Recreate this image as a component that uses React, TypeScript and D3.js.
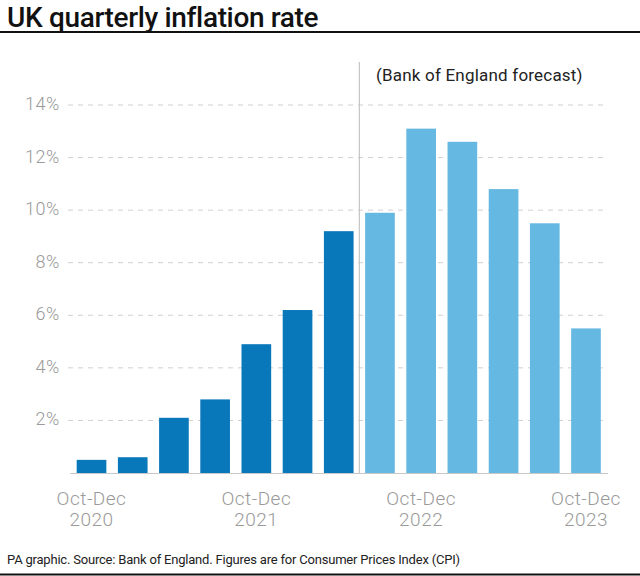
import React from "react";
import * as d3 from "d3";

const quarters = ["Oct-Dec 2020","Jan-Mar 2021","Apr-Jun 2021","Jul-Sep 2021","Oct-Dec 2021","Jan-Mar 2022","Apr-Jun 2022","Jul-Sep 2022","Oct-Dec 2022","Jan-Mar 2023","Apr-Jun 2023","Jul-Sep 2023","Oct-Dec 2023"];
const values = [0.5, 0.6, 2.1, 2.8, 4.9, 6.2, 9.2, 9.9, 13.1, 12.6, 10.8, 9.5, 5.5];
const forecast = [false,false,false,false,false,false,false,true,true,true,true,true,true];
const yTicks = [2, 4, 6, 8, 10, 12, 14];
const xLabelIdx = [0, 4, 8, 12];
const xLabelTop = ["Oct-Dec","Oct-Dec","Oct-Dec","Oct-Dec"];
const xLabelBottom = ["2020","2021","2022","2023"];

const W = 640, H = 576;
const font = "Roboto, 'Liberation Sans', Arial, sans-serif";

export default function App() {
  const x = d3.scaleBand<string>().domain(quarters).range([70.5, 607]).paddingInner(0.28).paddingOuter(0.15);
  const y = d3.scaleLinear().domain([0, 14]).range([473, 105]);
  const bw = x.bandwidth();
  const dividerX = (x(quarters[6])! + bw + x(quarters[7])!) / 2;
  return (
    <div style={{ position: "absolute", left: 0, top: 0 }}>
      <svg width={W} height={H} style={{ display: "block", fontFamily: font }}>
        <rect width={W} height={H} fill="#fff" />
        <text x={7} y={27} fontSize={28} fontWeight={500} fill="#111" letterSpacing={-0.35}>UK quarterly inflation rate</text>
        <line x1={0} x2={W} y1={32} y2={32} stroke="#111" strokeWidth={2} />
        {yTicks.map(t => (
          <g key={t}>
            <line x1={68} x2={607} y1={y(t)} y2={y(t)} stroke="#d0d0d0" strokeWidth={1} strokeDasharray="5,5" />
            <text x={60} y={y(t) + 5} fontSize={18} fontWeight={300} fill="#9a9a9a" textAnchor="end" letterSpacing={0.6}>{t}%</text>
          </g>
        ))}
        {quarters.map((q, i) => (
          <rect key={q} x={x(q)} y={y(values[i])} width={bw} height={y(0) - y(values[i])} fill={forecast[i] ? "#65b8e2" : "#0878bb"} />
        ))}
        <line x1={70} x2={608} y1={473.5} y2={473.5} stroke="#c8c8c8" strokeWidth={1} />
        <line x1={dividerX} x2={dividerX} y1={62} y2={473} stroke="#c4c4c4" strokeWidth={1.2} />
        <text x={376} y={81} fontSize={17} fill="#222" letterSpacing={0.2}>(Bank of England forecast)</text>
        {xLabelIdx.map((idx, k) => {
          const cx = x(quarters[idx])! + bw / 2;
          return (
            <g key={idx}>
              <text x={cx} y={505} fontSize={19} fontWeight={300} fill="#9a9a9a" textAnchor="middle" letterSpacing={0.5}>{xLabelTop[k]}</text>
              <text x={cx} y={526} fontSize={19} fontWeight={300} fill="#9a9a9a" textAnchor="middle" letterSpacing={0.5}>{xLabelBottom[k]}</text>
            </g>
          );
        })}
        <text x={7} y={564} fontSize={13} fill="#222" letterSpacing={-0.2}>PA graphic. Source: Bank of England. Figures are for Consumer Prices Index (CPI)</text>
        <line x1={0} x2={W} y1={574.5} y2={574.5} stroke="#111" strokeWidth={2} />
      </svg>
    </div>
  );
}
